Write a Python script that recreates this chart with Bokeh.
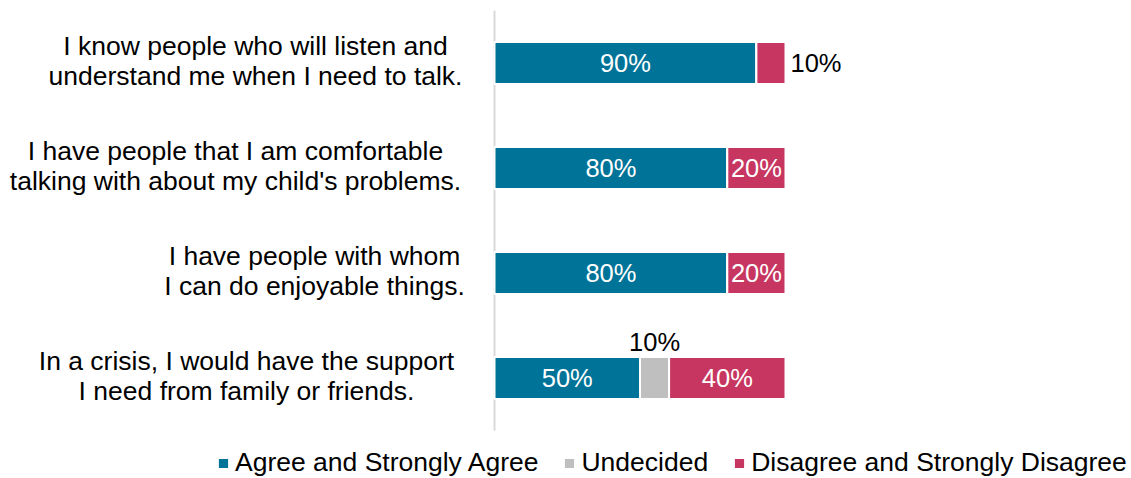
from bokeh.plotting import figure
from bokeh.models import ColumnDataSource, Range1d, Label, Legend, LegendItem
from bokeh.embed import file_html
from bokeh.resources import INLINE
from bokeh.core.properties import value

# ---- data ----
categories = [
    ["I know people who will listen and", "understand me when I need to talk."],
    ["I have people that I am comfortable", "talking with about my child's problems."],
    ["I have people with whom", "I can do enjoyable things."],
    ["In a crisis, I would have the support", "I need from family or friends."],
]
agree = [90, 80, 80, 50]
undecided = [0, 0, 0, 10]
disagree = [10, 20, 20, 40]
series_names = ["Agree and Strongly Agree", "Undecided", "Disagree and Strongly Disagree"]
colors = ["#007398", "#BFBFBF", "#C63660"]

FONT = "Liberation Sans"
W, H = 1131, 478
AXIS_PX = 494          # x pixel of the value axis (0 %)
PX_PER_100 = 291       # pixels for 100 %
TOP_PX, BAND_PX = 10, 105
n = len(categories)

k = 100 / PX_PER_100   # data units per pixel
x0 = -AXIS_PX * k
x1 = (W - AXIS_PX) * k
ky = 1 / BAND_PX
y_top = -TOP_PX * ky
y_bot = y_top + H * ky

def px_to_x(px):
    return (px - AXIS_PX) * k

ys = [i + 0.5 for i in range(n)]

p = figure(width=W, height=H, output_backend="svg", toolbar_location=None,
           x_range=Range1d(x0, x1), y_range=Range1d(y_bot, y_top),
           min_border=0)
p.xaxis.visible = False
p.yaxis.visible = False
p.xgrid.visible = False
p.ygrid.visible = False
p.outline_line_color = None
p.background_fill_color = "white"
p.border_fill_color = "white"

# value axis line
p.segment(x0=[0], y0=[0], x1=[0], y1=[n], line_color="#D9D9D9", line_width=2)

src = ColumnDataSource(dict(y=ys, agree=agree, undecided=undecided, disagree=disagree))
renderers = p.hbar_stack(["agree", "undecided", "disagree"], y="y", height=0.4,
                         color=colors, line_color="white", line_width=2, source=src)

# category labels (centered lines)
label_centers = [255, 235, 314, 246]
offsets = [17, -13]
for i, lines in enumerate(categories):
    cx = px_to_x(label_centers[i])
    for j, line in enumerate(lines):
        p.add_layout(Label(x=cx, y=ys[i], text=line, text_align="center",
                           text_baseline="alphabetic", y_offset=offsets[j],
                           text_font=FONT, text_font_size="26.5px", text_color="#000000"))

# value labels
tx, ty, tt, tc, tyo, ta = [], [], [], [], [], []
for i in range(n):
    a, u, d = agree[i], undecided[i], disagree[i]
    if a > 0:
        tx.append(a / 2); ty.append(ys[i]); tt.append(f"{a}%"); tc.append("white"); tyo.append(0); ta.append("center")
    if u > 0:
        tx.append(a + u / 2); ty.append(ys[i]); tt.append(f"{u}%"); tc.append("black"); tyo.append(-36); ta.append("center")
    if d > 0:
        if d < 15:
            tx.append(a + u + d + 5 * k); ty.append(ys[i]); tt.append(f"{d}%"); tc.append("black"); tyo.append(0); ta.append("left")
        else:
            tx.append(a + u + d / 2); ty.append(ys[i]); tt.append(f"{d}%"); tc.append("white"); tyo.append(0); ta.append("center")
tsrc = ColumnDataSource(dict(x=tx, y=ty, t=tt, c=tc, yo=tyo, a=ta))
p.text(x="x", y="y", text="t", text_color="c", y_offset="yo", text_align="a", source=tsrc,
       text_baseline="middle", text_font=value(FONT), text_font_size="25.5px")

legend = Legend(items=[LegendItem(label=series_names[kk], renderers=[renderers[kk]]) for kk in range(3)],
                orientation="horizontal", location=(216, 0),
                glyph_width=14, glyph_height=14, label_standoff=5, spacing=24,
                padding=0, margin=0, border_line_color=None, background_fill_alpha=0,
                label_text_font=FONT, label_text_font_size="26.5px", label_text_color="#000000")
p.add_layout(legend, "center")

open("out.html", "w").write(file_html(p, INLINE))
